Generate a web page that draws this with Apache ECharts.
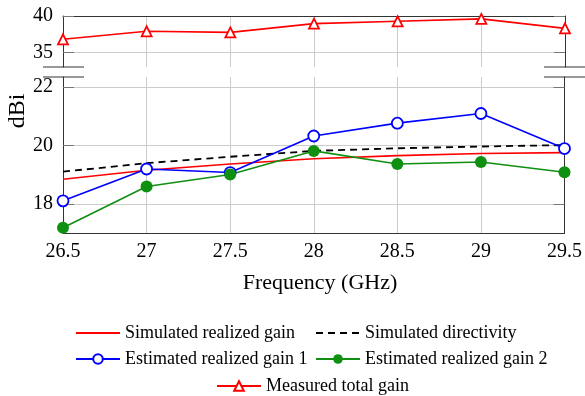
<!DOCTYPE html>
<html>
<head>
<meta charset="utf-8">
<title>Gain vs frequency</title>
<script src="https://cdn.jsdelivr.net/npm/echarts@6/dist/echarts.min.js"></script>
<style>
    html, body { margin: 0; padding: 0; background: #fff; }
    #chart { width: 585px; height: 396px; }
</style>
</head>
<body>
<div id="chart"></div>
<script>
// 频率 (GHz)
const freqs = [26.5, 27, 27.5, 28, 28.5, 29, 29.5];

// 各条曲线数值 (dBi)
const simRealizedGain = [18.84, 19.15, 19.36, 19.54, 19.65, 19.72, 19.75];
const simDirectivity = [19.10, 19.39, 19.61, 19.81, 19.90, 19.96, 20.01];
const estGain1 = [18.10, 19.19, 19.07, 20.32, 20.76, 21.09, 19.89];
const estGain2 = [17.18, 18.59, 19.00, 19.81, 19.36, 19.43, 19.08];
const measuredTotalGain = [36.8, 37.9, 37.75, 38.95, 39.27, 39.6, 38.3];

// 刻度标签
const upperTicks = [35, 40];
const lowerTicks = [18, 20, 22];

const FONT = 'Liberation Serif';

document.addEventListener('DOMContentLoaded', () => {
    const chart = echarts.init(document.getElementById('chart'), null, { renderer: 'canvas' });
    chart.setOption(buildOption());
});

// 把数组拼成 [x, y] 点
function toPoints(values) {
    return freqs.map((f, i) => [f, values[i]]);
}

// 横轴
function xAxisFor(gridIndex, showLabels) {
    return {
        type: 'value',
        gridIndex: gridIndex,
        position: showLabels ? 'bottom' : 'top',
        min: 26.5,
        max: 29.5,
        interval: 0.5,
        axisLine: { show: true, onZero: false, lineStyle: { color: '#333', width: 1 } },
        axisTick: { show: false },
        axisLabel: {
            show: showLabels,
            margin: 9,
            color: '#000',
            fontFamily: FONT,
            fontSize: 20,
            formatter: v => String(v)
        },
        splitLine: { show: true, lineStyle: { color: '#cccccc', width: 1 } }
    };
}

// 纵轴
function yAxisFor(gridIndex, min, max, ticks, right) {
    return {
        type: 'value',
        gridIndex: gridIndex,
        position: right ? 'right' : 'left',
        min: min,
        max: max,
        axisLine: { show: true, onZero: false, lineStyle: { color: '#333', width: 1 } },
        axisTick: {
            show: true,
            inside: true,
            length: 11,
            customValues: ticks,
            lineStyle: { color: '#777', width: 1 }
        },
        axisLabel: {
            show: !right,
            customValues: ticks,
            margin: 10,
            color: '#000',
            fontFamily: FONT,
            fontSize: 20
        },
        splitLine: { show: !right, lineStyle: { color: '#cccccc', width: 1 } }
    };
}

// 单独一条图例
function legendAt(name, left, top, lineOnly) {
    const legend = {
        data: [name],
        left: left,
        top: top,
        padding: 0,
        itemWidth: 44,
        itemHeight: 12,
        textStyle: { fontFamily: FONT, fontSize: 18, color: '#000' }
    };
    if (lineOnly) {
        legend.itemStyle = { color: 'rgba(0,0,0,0)', borderWidth: 0, opacity: 0 };
    }
    return legend;
}

// 断轴标记
function breakMark(x1, x2, y) {
    return {
        type: 'line',
        shape: { x1: x1, y1: y, x2: x2, y2: y },
        style: { stroke: '#333', lineWidth: 1 }
    };
}

function buildOption() {
    return {
        animation: false,
        backgroundColor: '#fff',
        textStyle: { fontFamily: FONT },
        grid: [
            { left: 63, right: 20, top: 16, height: 51 },
            { left: 63, right: 20, top: 77, height: 156 }
        ],
        xAxis: [
            xAxisFor(0, false),
            xAxisFor(1, true)
        ],
        yAxis: [
            yAxisFor(0, 33, 40, upperTicks, false),
            yAxisFor(1, 17, 22.34, lowerTicks, false),
            yAxisFor(0, 33, 40, upperTicks, true),
            yAxisFor(1, 17, 22.34, lowerTicks, true)
        ],
        legend: [
            legendAt('Simulated realized gain', 75, 324, true),
            legendAt('Simulated directivity', 315, 324, true),
            legendAt('Estimated realized gain 1', 75, 350),
            legendAt('Estimated realized gain 2', 315, 350),
            legendAt('Measured total gain', 216, 377)
        ],
        graphic: [
            breakMark(43, 84, 67),
            breakMark(43, 84, 77),
            breakMark(544, 585, 67),
            breakMark(544, 585, 77),
            {
                type: 'text',
                x: 320,
                y: 283,
                style: {
                    text: 'Frequency (GHz)',
                    font: '22px "Liberation Serif"',
                    fill: '#000',
                    align: 'center',
                    verticalAlign: 'middle'
                }
            },
            {
                type: 'text',
                x: 18,
                y: 111,
                rotation: Math.PI / 2,
                style: {
                    text: 'dBi',
                    font: '24px "Liberation Serif"',
                    fill: '#000',
                    align: 'center',
                    verticalAlign: 'middle'
                }
            }
        ],
        series: [
            {
                name: 'Simulated realized gain',
                type: 'line',
                xAxisIndex: 1,
                yAxisIndex: 1,
                data: toPoints(simRealizedGain),
                symbol: 'none',
                lineStyle: { color: '#ff0000', width: 1.6 },
                itemStyle: { color: '#ff0000' }
            },
            {
                name: 'Simulated directivity',
                type: 'line',
                xAxisIndex: 1,
                yAxisIndex: 1,
                data: toPoints(simDirectivity),
                symbol: 'none',
                lineStyle: { color: '#000', width: 1.8, type: [7, 5] },
                itemStyle: { color: '#000' }
            },
            {
                name: 'Estimated realized gain 1',
                type: 'line',
                xAxisIndex: 1,
                yAxisIndex: 1,
                data: toPoints(estGain1),
                symbol: 'circle',
                symbolSize: 11,
                lineStyle: { color: '#0000ff', width: 1.6 },
                itemStyle: { color: '#fff', borderColor: '#0000ff', borderWidth: 1.8 }
            },
            {
                name: 'Estimated realized gain 2',
                type: 'line',
                xAxisIndex: 1,
                yAxisIndex: 1,
                data: toPoints(estGain2),
                symbol: 'circle',
                symbolSize: 12,
                lineStyle: { color: '#109010', width: 1.6 },
                itemStyle: { color: '#109010', borderColor: '#109010', borderWidth: 0 }
            },
            {
                name: 'Measured total gain',
                type: 'line',
                xAxisIndex: 0,
                yAxisIndex: 0,
                data: toPoints(measuredTotalGain),
                symbol: 'triangle',
                symbolSize: 10,
                lineStyle: { color: '#ff0000', width: 1.6 },
                itemStyle: { color: '#fff', borderColor: '#ff0000', borderWidth: 1.8 }
            }
        ]
    };
}
</script>
</body>
</html>
